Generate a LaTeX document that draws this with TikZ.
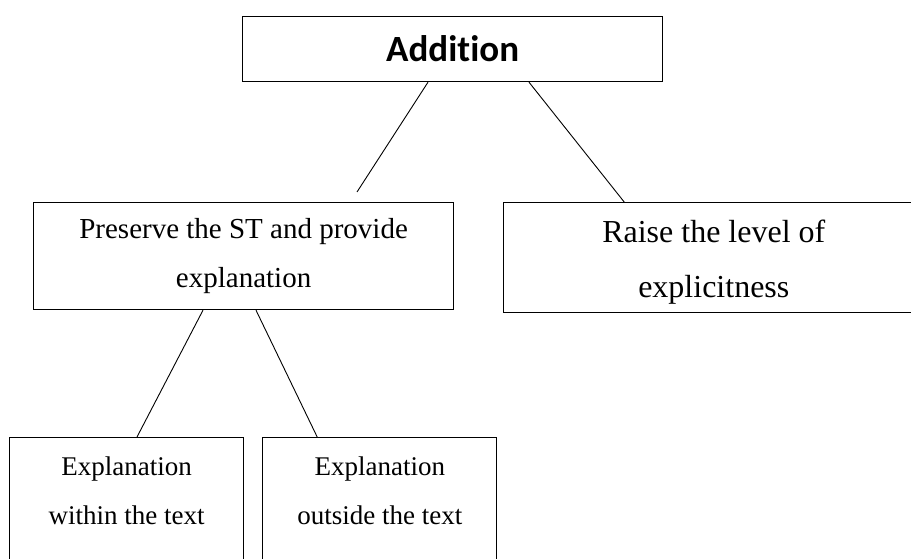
\documentclass[tikz,border=0pt]{standalone}
\usepackage{fontspec}
\setmainfont{Liberation Serif}
\newfontfamily\headfont[Ligatures=NoCommon]{Carlito}
\usetikzlibrary{positioning}

\begin{document}
\begin{tikzpicture}[
    x=1pt, y=-1pt,
    box/.style={rectangle, draw, line width=1.2pt, anchor=north west, align=center, inner sep=0pt},
    headbox/.style={box, minimum width=420pt, minimum height=65pt, font=\headfont\bfseries\fontsize{37}{44}\selectfont},
    midbox/.style={box, minimum width=420pt},
    lowbox/.style={box, minimum width=234pt, inner ysep=19.6pt, text depth=130pt, font=\fontsize{27}{49}\selectfont},
    link/.style={line width=0.9pt}
]
\useasboundingbox (0,0) rectangle (911,559);

% Top
\node[headbox] (add) at (242,16) {Addition};

% Second level
\node[midbox, minimum height=107pt, font=\fontsize{29}{49}\selectfont] (keep) at (33,202) {Preserve the ST and provide\\explanation};
\node[midbox, minimum height=110pt, font=\fontsize{32}{55}\selectfont, right=49pt of keep.north east, anchor=north west] (raise) {\rule{0pt}{31pt}Raise the level of\\explicitness};

% Third level
\node[lowbox] (within) at (9,437) {Explanation\\within the text};
\node[lowbox, right=18pt of within.north east, anchor=north west] (outside) {Explanation\\outside the text};

% Links
\coordinate (keeptop) at (357,192);
\draw[link] ([xshift=186pt]add.south west) -- (keeptop);
\draw[link] ([xshift=287pt]add.south west) -- ([xshift=121pt]raise.north west);
\draw[link] ([xshift=170pt]keep.south west) -- ([xshift=128pt]within.north west);
\draw[link] ([xshift=223pt]keep.south west) -- ([xshift=55pt]outside.north west);

\end{tikzpicture}
\end{document}
